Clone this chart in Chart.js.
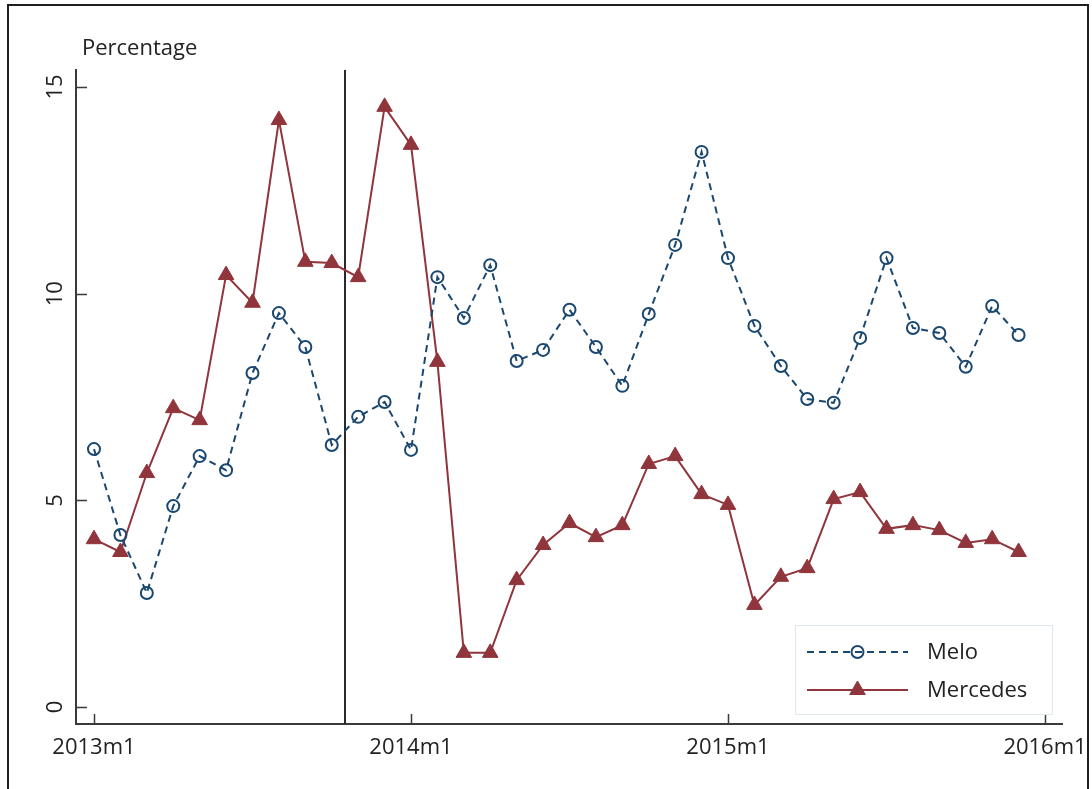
<!DOCTYPE html>
<html>
<head>
<meta charset="utf-8">
<script src="https://cdn.jsdelivr.net/npm/chart.js@4.4.1/dist/chart.umd.min.js"></script>
<style>
  html, body { margin: 0; padding: 0; background: #fff; }
  #frame {
    position: absolute; left: 7px; top: 4px;
    width: 1078px; height: 800px;
    border: 2px solid #1e1e1e; border-bottom: none;
    overflow: hidden;
  }
  #chart { position: absolute; left: -9px; top: -6px; }
</style>
</head>
<body>
<div id="frame"><canvas id="chart" width="1092" height="789"></canvas></div>
<script>
// monthly labels 2013m1 .. 2015m12
const months = [];
for (const yr of [2013, 2014, 2015]) {
    for (let m = 1; m <= 12; m++) months.push(yr + 'm' + m);
}

// share in percent, one value per month
const melo = [6.24, 4.16, 2.76, 4.86, 6.07, 5.73, 8.08, 9.53, 8.71, 6.34, 7.02, 7.38,
              6.22, 10.40, 9.41, 10.69, 8.37, 8.64, 9.61, 8.71, 7.77, 9.51, 11.18, 13.43,
              10.86, 9.22, 8.25, 7.45, 7.36, 8.93, 10.86, 9.17, 9.05, 8.23, 9.70, 9.00];
const mercedes = [4.06, 3.75, 5.66, 7.23, 6.94, 10.45, 9.78, 14.20, 10.77, 10.74, 10.40, 14.52,
                  13.60, 8.35, 1.31, 1.31, 3.07, 3.92, 4.45, 4.11, 4.40, 5.88, 6.07, 5.15,
                  4.89, 2.47, 3.15, 3.36, 5.03, 5.20, 4.31, 4.40, 4.28, 3.97, 4.06, 3.75];

// axis ticks (x in months since 2013m1)
const xTickPos = [0, 12, 24, 36];
const xTickLabels = ['2013m1', '2014m1', '2015m1', '2016m1'];
const yTicks = [0, 5, 10, 15];

// break between 2013m10 and 2013m11
const breakMonth = 9.5;

const MELO_COLOR = '#1a476f';
const MERC_COLOR = '#90353b';
const AXIS_COLOR = '#3a3a3a';
const FONT = "'Open Sans', 'Noto Sans', sans-serif";

Chart.defaults.font.family = FONT;
Chart.defaults.font.size = 22;
Chart.defaults.color = '#222';

const toPoints = arr => arr.map((v, i) => ({ x: i, y: v }));

// inward tick marks plus the vertical break line
const axisMarks = {
    id: 'axisMarks',
    beforeDatasetsDraw(chart) {
        const { ctx, chartArea: a, scales: { x } } = chart;
        const bx = Math.round(x.getPixelForValue(breakMonth));
        ctx.save();
        ctx.strokeStyle = '#2a2a2a';
        ctx.lineWidth = 2;
        ctx.beginPath();
        ctx.moveTo(bx, a.top);
        ctx.lineTo(bx, a.bottom);
        ctx.stroke();
        ctx.restore();
    },
    afterDraw(chart) {
        const { ctx, chartArea: a, scales: { x, y } } = chart;
        ctx.save();
        ctx.strokeStyle = AXIS_COLOR;
        ctx.lineWidth = 1.5;
        ctx.beginPath();
        x.ticks.forEach(t => {
            const px = Math.round(x.getPixelForValue(t.value)) + 0.5;
            ctx.moveTo(px, a.bottom);
            ctx.lineTo(px, a.bottom - 10);
        });
        y.ticks.forEach(t => {
            const py = Math.round(y.getPixelForValue(t.value)) + 0.5;
            ctx.moveTo(a.left, py);
            ctx.lineTo(a.left + 11, py);
        });
        ctx.stroke();

        // axis title above the y axis
        ctx.fillStyle = '#222';
        ctx.font = '22px ' + FONT;
        ctx.textAlign = 'left';
        ctx.textBaseline = 'middle';
        ctx.fillText('Percentage', 82, 49);
        ctx.restore();
    }
};

// legend box inside the plot, line sample with marker
const lineLegend = {
    id: 'lineLegend',
    afterDraw(chart) {
        const { ctx } = chart;
        const box = { x: 795.5, y: 625.5, w: 257, h: 89 };
        ctx.save();
        ctx.fillStyle = '#fff';
        ctx.fillRect(box.x, box.y, box.w, box.h);
        ctx.strokeStyle = '#dfe8ec';
        ctx.lineWidth = 1;
        ctx.strokeRect(box.x, box.y, box.w, box.h);

        const rows = [652, 690];
        chart.data.datasets.forEach((ds, i) => {
            const ry = rows[i];
            ctx.strokeStyle = ds.borderColor;
            ctx.lineWidth = ds.borderWidth;
            ctx.setLineDash(ds.borderDash || []);
            ctx.beginPath();
            ctx.moveTo(807, ry);
            ctx.lineTo(908, ry);
            ctx.stroke();
            ctx.setLineDash([]);

            ctx.fillStyle = ds.pointBackgroundColor;
            ctx.strokeStyle = ds.pointBorderColor;
            ctx.lineWidth = ds.pointBorderWidth;
            Chart.helpers.drawPoint(ctx, {
                pointStyle: ds.pointStyle,
                radius: ds.pointRadius,
                borderWidth: ds.pointBorderWidth,
                rotation: 0
            }, 857.5, ry);

            ctx.fillStyle = '#222';
            ctx.font = '22px ' + FONT;
            ctx.textAlign = 'left';
            ctx.textBaseline = 'middle';
            ctx.fillText(ds.label, 927, ry + 1);
        });
        ctx.restore();
    }
};

new Chart(document.getElementById('chart'), {
    type: 'line',
    data: {
        datasets: [
            {
                label: 'Melo',
                data: toPoints(melo),
                borderColor: MELO_COLOR,
                borderWidth: 2,
                borderDash: [7, 5],
                pointStyle: 'circle',
                pointRadius: 6,
                pointBorderWidth: 2,
                pointBackgroundColor: 'rgba(0,0,0,0)',
                pointBorderColor: MELO_COLOR,
                tension: 0
            },
            {
                label: 'Mercedes',
                data: toPoints(mercedes),
                borderColor: MERC_COLOR,
                borderWidth: 2,
                pointStyle: 'triangle',
                pointRadius: 9,
                pointBorderWidth: 1,
                pointBackgroundColor: MERC_COLOR,
                pointBorderColor: MERC_COLOR,
                tension: 0
            }
        ]
    },
    options: {
        responsive: false,
        animation: false,
        devicePixelRatio: 1,
        layout: { padding: { top: 70, right: 30, left: 0, bottom: 0 } },
        scales: {
            x: {
                type: 'linear',
                min: -0.681,
                max: 36.643,
                grid: { display: false, drawTicks: false },
                border: { display: true, color: AXIS_COLOR, width: 2 },
                afterBuildTicks: s => { s.ticks = xTickPos.map(v => ({ value: v })); },
                afterFit: s => {
                    s.height = 65;
                    // let the last label run past the plot edge
                    s.paddingLeft = 0;
                    s.paddingRight = 0;
                },
                ticks: {
                    padding: 11,
                    maxRotation: 0,
                    autoSkip: false,
                    callback: v => xTickLabels[xTickPos.indexOf(v)]
                }
            },
            y: {
                min: -0.411,
                max: 15.411,
                grid: { display: false, drawTicks: false },
                border: { display: true, color: AXIS_COLOR, width: 2 },
                afterBuildTicks: s => { s.ticks = yTicks.map(v => ({ value: v })); },
                afterFit: s => {
                    s.width = 76;
                    s.paddingTop = 0;
                    s.paddingBottom = 0;
                },
                ticks: {
                    padding: 8,
                    minRotation: 90,
                    maxRotation: 90,
                    crossAlign: 'center',
                    autoSkip: false
                }
            }
        },
        plugins: {
            legend: { display: false },
            tooltip: { enabled: false }
        }
    },
    plugins: [axisMarks, lineLegend]
});
</script>
</body>
</html>
